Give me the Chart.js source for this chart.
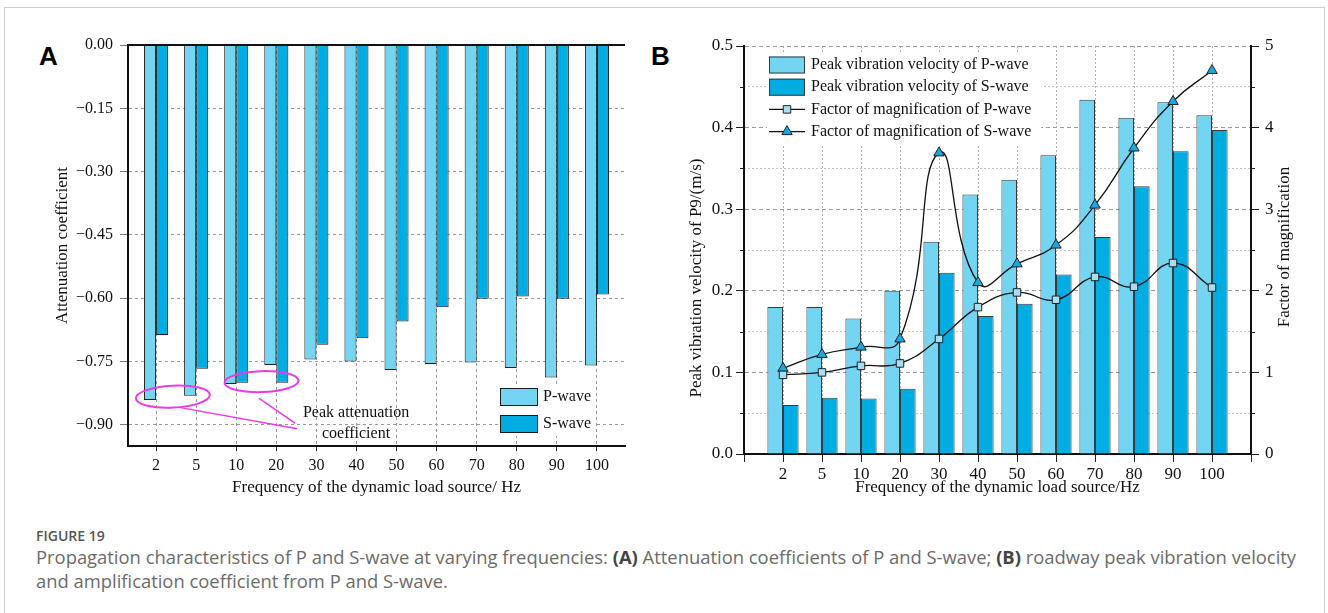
<!DOCTYPE html>
<html>
<head>
<meta charset="utf-8">
<script src="https://cdn.jsdelivr.net/npm/chart.js@4.4.1/dist/chart.umd.min.js"></script>
<style>
  html, body { margin: 0; padding: 0; background: #fff; }
  body { width: 1328px; height: 613px; position: relative; overflow: hidden; }
  .frame { position: absolute; left: 4px; top: 7px; width: 1319px; height: 700px; border: 1px solid #cdcdcd; }
  .tag { position: absolute; top: 43px; font: bold 26px/1 "Liberation Sans", Arial, sans-serif; color: #000; }
  #chartA { position: absolute; left: 0; top: 0; }
  #chartB { position: absolute; left: 640px; top: 0; }
  .caption { position: absolute; left: 36px; top: 527px; font-family: "Open Sans", sans-serif; color: #6b6b6b; }
  .caption .fig { font-size: 14px; line-height: 18px; font-weight: 600; color: #555; }
  .caption p { margin: 0; font-size: 18.4px; line-height: 24px; white-space: nowrap; }
  .caption b { color: #444; font-weight: 700; }
</style>
</head>
<body>
<div class="frame"></div>
<div class="tag" style="left:39px">A</div>
<div class="tag" style="left:651px">B</div>
<canvas id="chartA" width="650" height="510"></canvas>
<canvas id="chartB" width="688" height="510"></canvas>
<div class="caption">
  <div class="fig">FIGURE 19</div>
  <p>Propagation characteristics of P and S-wave at varying frequencies: <b>(A)</b> Attenuation coefficients of P and S-wave; <b>(B)</b> roadway peak vibration velocity</p>
  <p>and amplification coefficient from P and S-wave.</p>
</div>

<script>
const freqLabels = ["2", "5", "10", "20", "30", "40", "50", "60", "70", "80", "90", "100"];

// (A) attenuation coefficients
const attenP = [-0.841, -0.831, -0.803, -0.758, -0.745, -0.750, -0.770, -0.756, -0.752, -0.765, -0.788, -0.759];
const attenS = [-0.687, -0.767, -0.800, -0.800, -0.710, -0.695, -0.655, -0.621, -0.601, -0.596, -0.601, -0.591];
const attenTicks = [0, -0.15, -0.3, -0.45, -0.6, -0.75, -0.9];

// (B) peak vibration velocity (m/s) and magnification factor
const velocityP = [0.180, 0.180, 0.166, 0.200, 0.260, 0.318, 0.336, 0.366, 0.434, 0.412, 0.431, 0.415];
const velocityS = [0.060, 0.069, 0.068, 0.080, 0.222, 0.169, 0.184, 0.220, 0.266, 0.328, 0.371, 0.397];
const factorP = [0.97, 1.00, 1.08, 1.11, 1.41, 1.80, 1.98, 1.89, 2.17, 2.05, 2.34, 2.04];
const factorS = [1.05, 1.22, 1.31, 1.41, 3.69, 2.10, 2.33, 2.56, 3.05, 3.75, 4.32, 4.70];
const velocityTicks = [0, 0.05, 0.1, 0.15, 0.2, 0.25, 0.3, 0.35, 0.4, 0.45, 0.5];
const factorTicks = [0, 0.5, 1, 1.5, 2, 2.5, 3, 3.5, 4, 4.5, 5];

const P_FILL = "#74d5f2";
const S_FILL = "#00ade3";
const SERIF = "'Liberation Serif', 'Times New Roman', serif";
const MAGENTA = "#e83ce8";

Chart.defaults.font.family = SERIF;
Chart.defaults.font.size = 16;
Chart.defaults.color = "#111";

function toPoints(values) {
  return values.map((y, i) => ({ x: i, y }));
}

function setTicks(values) {
  return (scale) => {
    scale.ticks = values.map((value) => ({ value }));
  };
}

function isMajor(value, step) {
  return Math.abs(value / step - Math.round(value / step)) < 1e-6;
}

function drawRotated(ctx, text, x, y, size = 17) {
  ctx.save();
  ctx.translate(x, y);
  ctx.rotate(-Math.PI / 2);
  ctx.font = `${size}px ${SERIF}`;
  ctx.fillStyle = "#111";
  ctx.textAlign = "center";
  ctx.textBaseline = "middle";
  ctx.fillText(text, 0, 0);
  ctx.restore();
}

// magenta callouts, placed in data units of panel A
const calloutsA = {
  id: "calloutsA",
  afterDatasetsDraw(chart) {
    const { ctx, chartArea, scales: { x, y } } = chart;
    const px = (v) => x.getPixelForValue(v);
    const py = (v) => y.getPixelForValue(v);

    ctx.save();
    // zero line along the top of the plot
    ctx.strokeStyle = "#111";
    ctx.lineWidth = 2;
    ctx.beginPath();
    ctx.moveTo(chartArea.left - 1, py(0));
    ctx.lineTo(chartArea.right, py(0));
    ctx.stroke();

    ctx.strokeStyle = MAGENTA;
    ctx.lineWidth = 2;
    [
      { cx: 0.42, cy: -0.833, rx: 37, ry: 11, rot: -0.05 },
      { cx: 2.63, cy: -0.7975, rx: 37, ry: 10.5, rot: -0.03 },
    ].forEach((e) => {
      ctx.beginPath();
      ctx.ellipse(px(e.cx), py(e.cy), e.rx, e.ry, e.rot, 0, Math.PI * 2);
      ctx.stroke();
    });

    ctx.lineWidth = 1.5;
    [
      [0.575, -0.8585, 3.52, -0.909],
      [2.57, -0.837, 3.475, -0.8965],
    ].forEach(([x1, y1, x2, y2]) => {
      ctx.beginPath();
      ctx.moveTo(px(x1), py(y1));
      ctx.lineTo(px(x2), py(y2));
      ctx.stroke();
    });

    ctx.fillStyle = "#111";
    ctx.font = `16px ${SERIF}`;
    ctx.textAlign = "center";
    ctx.textBaseline = "middle";
    ctx.fillText("Peak attenuation", px(4.99), py(-0.872));
    ctx.fillText("coefficient", px(4.99), py(-0.92));

    // legend box, bottom right
    const lx = chartArea.right - 127;
    const ly = chartArea.bottom - 61;
    ctx.fillStyle = "#fff";
    ctx.fillRect(lx, ly, 97, 51);
    chart.data.datasets.forEach((ds, i) => {
      const cy = chartArea.bottom - 49 + i * 27;
      ctx.fillStyle = ds.backgroundColor;
      ctx.fillRect(lx + 2, cy - 9, 38, 18);
      ctx.strokeStyle = ds.borderColor;
      ctx.lineWidth = 1;
      ctx.strokeRect(lx + 2.5, cy - 8.5, 37, 17);
      ctx.fillStyle = "#111";
      ctx.textAlign = "left";
      ctx.fillText(ds.label, lx + 45, cy);
    });
    ctx.restore();
  },
};

// side titles, minor ticks and legend of panel B
const decorB = {
  id: "decorB",
  afterDraw(chart) {
    const { ctx, chartArea, scales: { y, y1 } } = chart;
    ctx.save();
    ctx.strokeStyle = "#222";
    ctx.lineWidth = 1;
    velocityTicks.filter((v) => !isMajor(v, 0.1)).forEach((v) => {
      const py = Math.round(y.getPixelForValue(v)) + 0.5;
      ctx.beginPath();
      ctx.moveTo(chartArea.left - 4, py);
      ctx.lineTo(chartArea.left, py);
      ctx.stroke();
    });
    factorTicks.filter((v) => !isMajor(v, 1)).forEach((v) => {
      const py = Math.round(y1.getPixelForValue(v)) + 0.5;
      ctx.beginPath();
      ctx.moveTo(chartArea.right, py);
      ctx.lineTo(chartArea.right + 4, py);
      ctx.stroke();
    });
    ctx.restore();

    drawRotated(ctx, "Peak vibration velocity of P9/(m/s)", chartArea.left - 47, (chartArea.top + chartArea.bottom) / 2 + 28);
    drawRotated(ctx, "Factor of magnification", chartArea.right + 34, (chartArea.top + chartArea.bottom) / 2 - 3);

    const lx = chartArea.left + 23;
    const ly = chartArea.top + 7;
    ctx.save();
    ctx.fillStyle = "#fff";
    ctx.fillRect(lx, ly, 274, 92);
    ctx.font = `16px ${SERIF}`;
    ctx.textBaseline = "middle";
    chart.data.datasets.forEach((ds, i) => {
      const cy = chartArea.top + 19 + i * 22.2;
      const sx = lx + 2;
      if (ds.type === "line") {
        ctx.strokeStyle = ds.borderColor;
        ctx.lineWidth = ds.borderWidth;
        ctx.beginPath();
        ctx.moveTo(sx, cy);
        ctx.lineTo(sx + 36, cy);
        ctx.stroke();
        ctx.fillStyle = ds.pointBackgroundColor;
        ctx.strokeStyle = ds.pointBorderColor;
        ctx.lineWidth = ds.pointBorderWidth;
        Chart.helpers.drawPoint(ctx, {
          pointStyle: ds.pointStyle,
          radius: ds.pointRadius,
          borderWidth: ds.pointBorderWidth,
          rotation: 0,
        }, sx + 18, cy);
      } else {
        ctx.fillStyle = ds.backgroundColor;
        ctx.fillRect(sx, cy - 8.5, 36, 17);
        ctx.strokeStyle = ds.borderColor;
        ctx.lineWidth = 1;
        ctx.strokeRect(sx + 0.5, cy - 8, 35, 16);
      }
      ctx.fillStyle = "#111";
      ctx.textAlign = "left";
      ctx.fillText(ds.label, lx + 44, cy);
    });
    ctx.restore();
  },
};

new Chart(document.getElementById("chartA"), {
  type: "bar",
  data: {
    datasets: [
      { label: "P-wave", data: toPoints(attenP), backgroundColor: P_FILL, borderColor: "#1a1a1a", borderWidth: 1 },
      { label: "S-wave", data: toPoints(attenS), backgroundColor: S_FILL, borderColor: "#1a1a1a", borderWidth: 1 },
    ],
  },
  options: {
    responsive: false,
    animation: false,
    categoryPercentage: 0.6,
    barPercentage: 1,
    layout: { padding: { left: 52.8, top: 45, right: 25, bottom: 11.8 } },
    plugins: { legend: { display: false }, tooltip: { enabled: false } },
    scales: {
      x: {
        type: "linear",
        offset: false,
        min: -0.7,
        max: 11.7,
        afterBuildTicks: setTicks(freqLabels.map((_, i) => i)),
        afterFit: (scale) => { scale.height = 52.2; },
        ticks: { callback: (v) => freqLabels[v] ?? "", padding: 4.9, autoSkip: false, maxRotation: 0 },
        grid: { offset: false, color: "#9a9a9a", tickLength: 5, tickColor: "#333" },
        border: { color: "#111", width: 2, dash: [3, 3] },
        title: { display: true, text: "Frequency of the dynamic load source/ Hz", font: { size: 17 }, padding: 0 },
      },
      y: {
        min: -0.95,
        max: 0,
        afterBuildTicks: setTicks(attenTicks),
        afterFit: (scale) => { scale.width = 75.2; },
        ticks: { callback: (v) => (v === 0 ? "0.00" : "\u2212" + Math.abs(v).toFixed(2)), padding: 7 },
        grid: { color: "#9a9a9a", tickLength: 8, tickColor: "#777" },
        border: { color: "#111", width: 2, dash: [3, 3] },
        title: { display: true, text: "Attenuation coefficient", font: { size: 17 }, padding: 0 },
      },
    },
  },
  plugins: [calloutsA],
});

new Chart(document.getElementById("chartB"), {
  type: "bar",
  data: {
    datasets: [
      { label: "Peak vibration velocity of P-wave", data: toPoints(velocityP), yAxisID: "y", backgroundColor: P_FILL, borderColor: "#3a3a3a", borderWidth: 1, order: 1 },
      { label: "Peak vibration velocity of S-wave", data: toPoints(velocityS), yAxisID: "y", backgroundColor: S_FILL, borderColor: "#3a3a3a", borderWidth: 1, order: 1 },
      {
        type: "line",
        label: "Factor of magnification of P-wave",
        data: toPoints(factorP),
        yAxisID: "y1",
        borderColor: "#111",
        borderWidth: 1.3,
        tension: 0.45,
        pointStyle: "rect",
        pointRadius: 5.3,
        pointBackgroundColor: "#a6def4",
        pointBorderColor: "#222",
        pointBorderWidth: 1,
        order: 0,
      },
      {
        type: "line",
        label: "Factor of magnification of S-wave",
        data: toPoints(factorS),
        yAxisID: "y1",
        borderColor: "#111",
        borderWidth: 1.3,
        tension: 0.5,
        pointStyle: "triangle",
        pointRadius: 6,
        pointBackgroundColor: "#19a8e0",
        pointBorderColor: "#222",
        pointBorderWidth: 1,
        order: 0,
      },
    ],
  },
  options: {
    responsive: false,
    animation: false,
    categoryPercentage: 0.8,
    barPercentage: 1,
    layout: { padding: { left: 0, top: 46, right: 17, bottom: 11.8 } },
    plugins: { legend: { display: false }, tooltip: { enabled: false } },
    scales: {
      x: {
        type: "linear",
        offset: false,
        min: -1,
        max: 12,
        afterBuildTicks: setTicks([-1, ...freqLabels.map((_, i) => i), 12]),
        afterFit: (scale) => { scale.height = 44.2; },
        ticks: { callback: (v) => freqLabels[v] ?? "", padding: 2.4, autoSkip: false, maxRotation: 0, font: { size: 17 } },
        grid: {
          offset: false,
          color: (c) => (c.tick && (c.tick.value < 0 || c.tick.value > 11) ? "transparent" : "#b0b0b0"),
          tickLength: 8,
          tickColor: "#222",
        },
        border: { color: "#111", width: 2, dash: [2, 2] },
        title: { display: true, text: "Frequency of the dynamic load source/Hz", font: { size: 17 }, padding: 0 },
      },
      y: {
        position: "left",
        min: 0,
        max: 0.5,
        afterBuildTicks: setTicks(velocityTicks),
        afterFit: (scale) => { scale.width = 104; },
        ticks: { callback: (v) => (isMajor(v, 0.1) ? v.toFixed(1) : ""), padding: 3, font: { size: 17 } },
        grid: {
          color: (c) => (c.tick && isMajor(c.tick.value, 0.1) ? "#9a9a9a" : "transparent"),
          tickLength: 8,
          tickColor: (c) => (c.tick && isMajor(c.tick.value, 0.1) ? "#222" : "transparent"),
        },
        border: { color: "#111", width: 2, dash: [4, 3] },
      },
      y1: {
        position: "right",
        min: 0,
        max: 5,
        afterBuildTicks: setTicks(factorTicks),
        afterFit: (scale) => { scale.width = 60; },
        ticks: { callback: (v) => (isMajor(v, 1) ? String(v) : ""), padding: 6, font: { size: 17 } },
        grid: {
          color: (c) => (c.tick && !isMajor(c.tick.value, 1) ? "#c4c4c4" : "transparent"),
          tickLength: 8,
          tickColor: (c) => (c.tick && isMajor(c.tick.value, 1) ? "#222" : "transparent"),
        },
        border: { color: "#111", width: 2, dash: [2, 2] },
      },
    },
  },
  plugins: [decorB],
});
</script>
</body>
</html>
